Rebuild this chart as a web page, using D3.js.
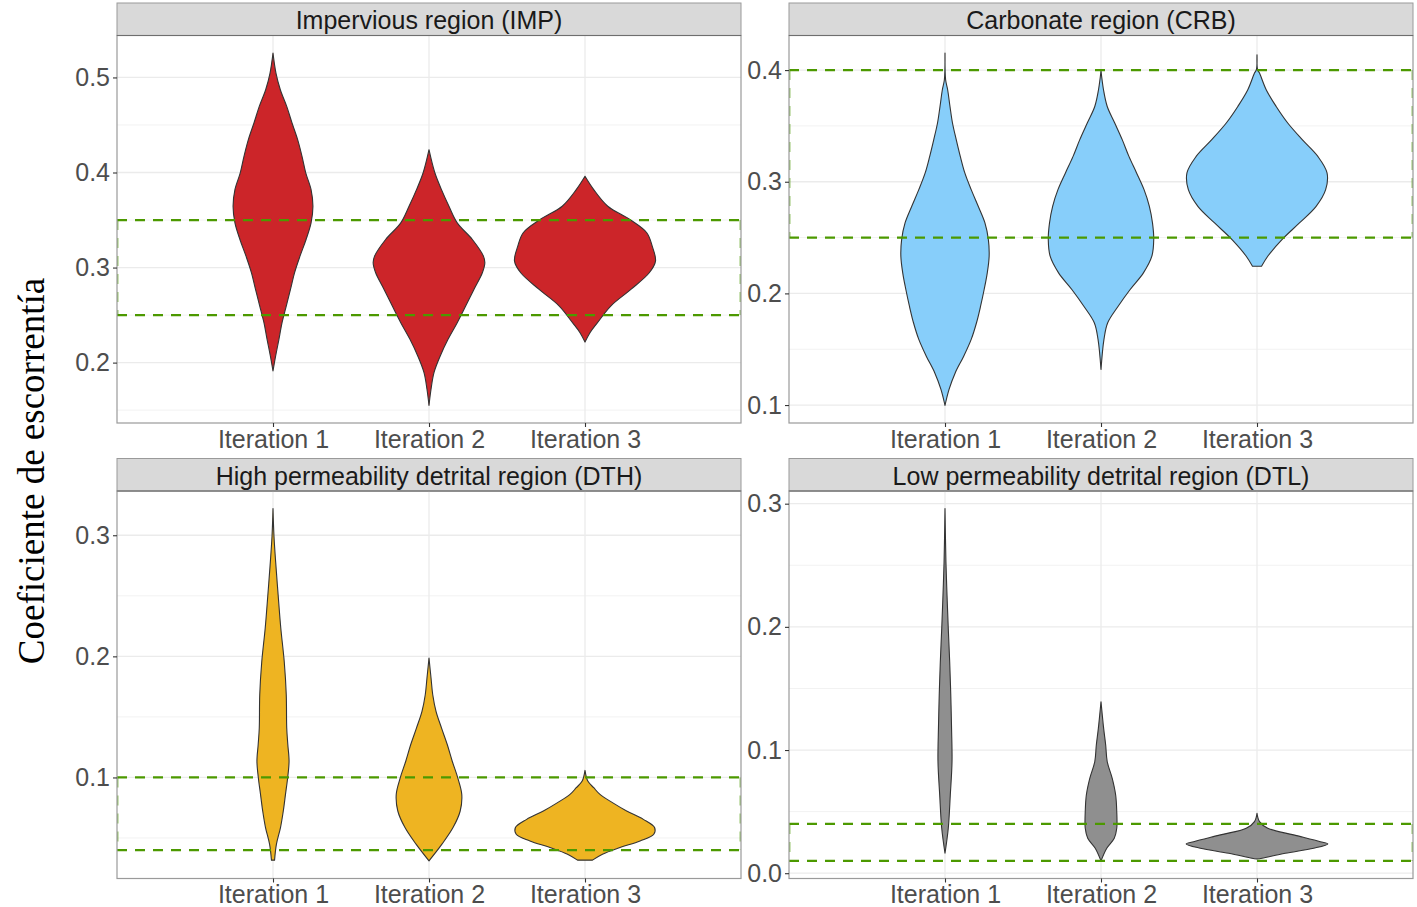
<!DOCTYPE html>
<html>
<head>
<meta charset="utf-8">
<script src="https://cdn.jsdelivr.net/npm/d3@7"></script>
<style>
body{margin:0;background:#fff;}
svg{display:block;}
</style>
</head>
<body>
<svg id="chart" width="1417" height="907"></svg>
<script>

// categories
var iterations = ['Iteration 1','Iteration 2','Iteration 3'];
var regions = ['Impervious region (IMP)','Carbonate region (CRB)','High permeability detrital region (DTH)','Low permeability detrital region (DTL)'];

// violin outlines: [coefficient, half width in category steps]
var impIt1 = [[0.5256,0],[0.5046,0.019],[0.4871,0.047],[0.4695,0.088],[0.4521,0.122],[0.4346,0.158],[0.417,0.186],[0.3996,0.21],[0.382,0.244],[0.3645,0.256],[0.347,0.244],[0.3295,0.212],[0.312,0.173],[0.2945,0.138],[0.277,0.112],[0.2595,0.085],[0.242,0.058],[0.2245,0.038],[0.207,0.017],[0.1912,0]];
var impIt2 = [[0.424,0],[0.400,0.037],[0.382,0.080],[0.3645,0.128],[0.347,0.181],[0.3295,0.278],[0.312,0.349],[0.305,0.358],[0.2945,0.342],[0.277,0.288],[0.2595,0.235],[0.242,0.181],[0.2245,0.122],[0.207,0.072],[0.1895,0.032],[0.172,0.013],[0.155,0]];
var impIt3 = [[0.396,0],[0.382,0.056],[0.3645,0.146],[0.3505,0.288],[0.3366,0.396],[0.3225,0.431],[0.3067,0.452],[0.2945,0.412],[0.277,0.294],[0.2595,0.165],[0.242,0.080],[0.2315,0.032],[0.2216,0]];

var crbIt1 = [[0.4152,0],[0.3913,0.004],[0.3824,0.017],[0.3674,0.032],[0.3526,0.048],[0.3377,0.072],[0.3227,0.098],[0.3079,0.127],[0.2929,0.168],[0.278,0.213],[0.2631,0.256],[0.2482,0.278],[0.2333,0.283],[0.2184,0.271],[0.2035,0.251],[0.1885,0.228],[0.1737,0.202],[0.1588,0.168],[0.1438,0.120],[0.129,0.066],[0.114,0.026],[0.0997,0]];
var crbIt2 = [[0.3994,0],[0.3824,0.016],[0.3674,0.040],[0.3526,0.088],[0.3377,0.136],[0.3227,0.179],[0.3079,0.228],[0.2929,0.276],[0.278,0.310],[0.2631,0.330],[0.2482,0.338],[0.2333,0.326],[0.2184,0.272],[0.2035,0.187],[0.1885,0.110],[0.1737,0.043],[0.1588,0.019],[0.1319,0]];
var crbIt3 = [[0.4137,0],[0.4003,0.004],[0.3973,0.016],[0.3824,0.059],[0.3674,0.123],[0.3526,0.197],[0.3377,0.290],[0.3227,0.390],[0.3079,0.449],[0.2929,0.440],[0.278,0.379],[0.2631,0.272],[0.2482,0.160],[0.2333,0.069],[0.2243,0.029]];

var dthIt1 = [[0.322,0],[0.3,0.006],[0.278,0.017],[0.2506,0.033],[0.2232,0.05],[0.1957,0.072],[0.1683,0.085],[0.1409,0.088],[0.1272,0.095],[0.1134,0.103],[0.0998,0.094],[0.086,0.080],[0.0723,0.066],[0.0586,0.048],[0.0449,0.022],[0.0317,0.01]];
var dthIt2 = [[0.1985,0],[0.1821,0.013],[0.1683,0.024],[0.1546,0.045],[0.1409,0.08],[0.1272,0.117],[0.1134,0.149],[0.0998,0.184],[0.086,0.21],[0.0723,0.2],[0.0586,0.154],[0.0449,0.083],[0.0311,0]];
var dthIt3 = [[0.1058,0],[0.097,0.018],[0.0915,0.056],[0.086,0.096],[0.0792,0.176],[0.0723,0.267],[0.0654,0.374],[0.0586,0.446],[0.0531,0.441],[0.0476,0.353],[0.0421,0.224],[0.0366,0.112],[0.0317,0.048]];

var dtlIt1 = [[0.296,0],[0.2527,0.006],[0.2257,0.013],[0.1987,0.021],[0.1716,0.030],[0.1446,0.037],[0.1176,0.042],[0.0905,0.045],[0.0635,0.034],[0.0365,0.021],[0.0162,0]];
var dtlIt2 = [[0.1392,0],[0.1176,0.017],[0.1041,0.030],[0.0905,0.040],[0.077,0.072],[0.0635,0.094],[0.05,0.101],[0.0365,0.101],[0.0284,0.085],[0.0203,0.037],[0.01,0]];
var dtlIt3 = [[0.0487,0],[0.0419,0.016],[0.0365,0.069],[0.0311,0.235],[0.0256,0.406],[0.0238,0.454],[0.0203,0.363],[0.0162,0.181],[0.0122,0.032],[0.0115,0]];

// target band (dashed box) per region
var bandLow = [0.25, 0.25, 0.04, 0.01];
var bandHigh = [0.35, 0.40, 0.10, 0.04];

// y tick labels per region
var ticksIMP = [0.2,0.3,0.4,0.5];
var ticksCRB = [0.1,0.2,0.3,0.4];
var ticksDTH = [0.1,0.2,0.3];
var ticksDTL = [0.0,0.1,0.2,0.3];

var fills = ['#cc2529','#87cefa','#eeb422','#8f8f8f'];

var panels = [
	{title:regions[0], violins:[impIt1,impIt2,impIt3], ticks:ticksIMP, low:bandLow[0], high:bandHigh[0], fill:fills[0]},
	{title:regions[1], violins:[crbIt1,crbIt2,crbIt3], ticks:ticksCRB, low:bandLow[1], high:bandHigh[1], fill:fills[1]},
	{title:regions[2], violins:[dthIt1,dthIt2,dthIt3], ticks:ticksDTH, low:bandLow[2], high:bandHigh[2], fill:fills[2]},
	{title:regions[3], violins:[dtlIt1,dtlIt2,dtlIt3], ticks:ticksDTL, low:bandLow[3], high:bandHigh[3], fill:fills[3]}
];

var sans = '"Liberation Sans", Arial, Helvetica, sans-serif';
var panelW = 624, panelH = 387.5, stripH = 32.5;
var colX = [117, 789], rowY = [3, 458.5];

var svg = d3.select('#chart');

panels.forEach(function(p,i){
	var col = i%2, row = Math.floor(i/2);
	var left = colX[col], top = rowY[row]+stripH;

	// strip
	svg.append('rect')
		.attr('x',left).attr('y',rowY[row])
		.attr('width',panelW).attr('height',stripH)
		.attr('fill','#d9d9d9').attr('stroke','#9a9a9a').attr('stroke-width',1);
	svg.append('text')
		.attr('x',left+panelW/2).attr('y',rowY[row]+stripH/2+1)
		.attr('text-anchor','middle').attr('dominant-baseline','central')
		.style('font-family',sans).style('font-size','25px').attr('fill','#1a1a1a')
		.text(p.title);

	var g = svg.append('g').attr('transform','translate('+left+','+top+')');

	var vals = [];
	p.violins.forEach(v => v.forEach(d => vals.push(d[0])));
	vals.push(p.low, p.high);
	var ext = d3.extent(vals), pad = (ext[1]-ext[0])*0.05;

	var y = d3.scaleLinear().domain([ext[0]-pad, ext[1]+pad]).range([panelH,0]);
	var x = d3.scalePoint().domain(iterations).range([0,panelW]).padding(1);

	// minor grid at half steps
	var step = p.ticks[1]-p.ticks[0];
	var minor = [p.ticks[0]-step/2];
	p.ticks.forEach(t => minor.push(t+step/2));
	minor = minor.filter(m => m>=y.domain()[0] && m<=y.domain()[1]);

	g.selectAll('.minor').data(minor).enter().append('line')
		.attr('x1',0).attr('x2',panelW)
		.attr('y1',d=>y(d)).attr('y2',d=>y(d))
		.attr('stroke','#f2f2f2').attr('stroke-width',1);
	g.selectAll('.major').data(p.ticks).enter().append('line')
		.attr('x1',0).attr('x2',panelW)
		.attr('y1',d=>y(d)).attr('y2',d=>y(d))
		.attr('stroke','#ebebeb').attr('stroke-width',1.3);
	g.selectAll('.vmajor').data(iterations).enter().append('line')
		.attr('x1',d=>x(d)).attr('x2',d=>x(d))
		.attr('y1',0).attr('y2',panelH)
		.attr('stroke','#ebebeb').attr('stroke-width',1.3);

	// violins
	p.violins.forEach(function(v,k){
		var cx = x(iterations[k]);
		var area = d3.area()
			.curve(d3.curveCatmullRom)
			.y(d => y(d[0]))
			.x0(d => cx - d[1]*x.step())
			.x1(d => cx + d[1]*x.step());
		g.append('path')
			.attr('d',area(v))
			.attr('fill',p.fill)
			.attr('stroke','#333333')
			.attr('stroke-width',1.1)
			.attr('stroke-linejoin','round');
	});

	// dashed target band
	[p.high,p.low].forEach(function(b){
		g.append('line')
			.attr('x1',0).attr('x2',panelW)
			.attr('y1',y(b)).attr('y2',y(b))
			.attr('stroke','#4c9900').attr('stroke-width',2.2)
			.attr('stroke-dasharray','10,8');
	});
	[0.8,panelW-0.8].forEach(function(xx){
		g.append('line')
			.attr('x1',xx).attr('x2',xx)
			.attr('y1',y(p.high)).attr('y2',y(p.low))
			.attr('stroke','#4c9900').attr('stroke-width',1.2).attr('opacity',0.7)
			.attr('stroke-dasharray','10,8');
	});

	// panel border
	g.append('rect')
		.attr('width',panelW).attr('height',panelH)
		.attr('fill','none').attr('stroke','#9a9a9a').attr('stroke-width',1.2);
	svg.append('line')
		.attr('x1',left).attr('x2',left+panelW)
		.attr('y1',top).attr('y2',top)
		.attr('stroke','#6e6e6e').attr('stroke-width',1.2);

	// axes
	var yAxis = g.append('g')
		.call(d3.axisLeft(y).tickValues(p.ticks).tickFormat(d3.format('.1f')).tickSize(4).tickPadding(3));
	var xAxis = g.append('g')
		.attr('transform','translate(0,'+panelH+')')
		.call(d3.axisBottom(x).tickSize(4).tickPadding(3));

	[yAxis,xAxis].forEach(function(a){
		a.select('.domain').remove();
		a.selectAll('line').attr('stroke','#333333').attr('stroke-width',1.1);
		a.selectAll('text').attr('fill','#4d4d4d').style('font-family',sans).style('font-size','25px');
	});
});

// y axis title
svg.append('text')
	.attr('transform','translate(44,471) rotate(-90)')
	.attr('text-anchor','middle')
	.style('font-family','"Liberation Serif", "Times New Roman", Times, serif')
	.style('font-size','37px')
	.attr('fill','#000')
	.text('Coeficiente de escorrentía');

</script>
</body>
</html>
